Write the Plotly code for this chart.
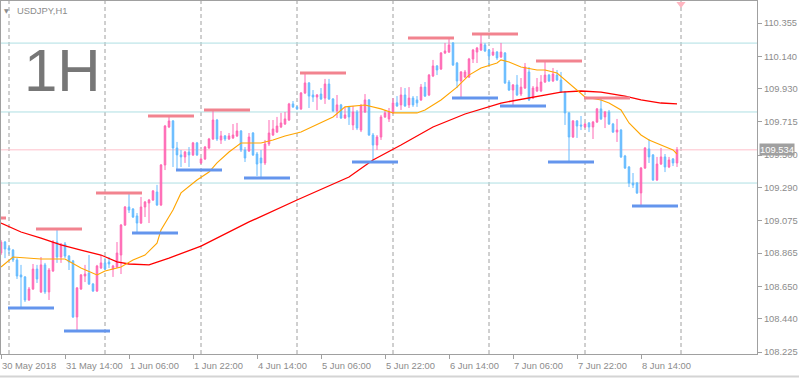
import plotly.graph_objects as go

# ---------------- data ----------------
bar_index = list(range(170))
open_ = [108.866,108.937,108.898,108.885,108.821,108.724,108.711,108.562,108.633,108.762,
108.614,108.789,108.614,108.750,108.937,108.840,108.924,108.846,108.815,108.452,
108.633,108.717,108.737,108.665,108.620,108.769,108.802,108.808,108.762,108.775,
108.853,109.047,109.164,109.151,109.106,109.060,109.164,109.190,109.209,109.261,
109.177,109.436,109.682,109.721,109.546,109.501,109.488,109.520,109.501,109.579,
109.449,109.475,109.546,109.604,109.727,109.598,109.624,109.604,109.611,109.624,
109.656,109.533,109.527,109.643,109.507,109.481,109.449,109.572,109.630,109.649,
109.682,109.701,109.727,109.831,109.812,109.799,109.902,109.967,109.889,109.876,
109.895,109.869,109.960,109.863,109.786,109.825,109.740,109.812,109.695,109.779,
109.662,109.779,109.857,109.630,109.565,109.617,109.747,109.734,109.773,109.838,
109.825,109.889,109.825,109.869,109.857,109.857,109.940,109.889,110.012,110.077,
110.057,110.161,110.167,110.226,110.096,109.980,110.005,110.005,110.122,110.167,
110.180,110.213,110.180,110.148,110.167,110.135,110.161,109.973,109.921,109.954,
109.895,109.934,110.038,109.869,109.915,109.915,109.973,110.018,109.980,110.018,
109.986,109.908,109.773,109.617,109.721,109.695,109.682,109.708,109.682,109.714,
109.799,109.747,109.779,109.701,109.649,109.662,109.494,109.423,109.319,109.319,
109.255,109.416,109.540,109.501,109.339,109.442,109.488,109.423,109.475,109.449]
high = [108.950,108.944,108.911,108.892,108.833,108.789,108.717,108.646,108.795,108.789,
108.840,108.802,108.769,108.950,109.021,108.930,108.937,108.853,108.821,108.646,
108.730,108.789,108.853,108.672,108.789,108.853,108.833,108.840,108.789,108.937,
109.054,109.170,109.255,109.157,109.125,109.229,109.203,109.216,109.274,109.307,
109.442,109.695,109.753,109.727,109.585,109.533,109.527,109.552,109.585,109.585,
109.481,109.559,109.611,109.792,109.734,109.656,109.630,109.643,109.701,109.708,
109.662,109.552,109.643,109.649,109.520,109.533,109.598,109.727,109.727,109.747,
109.773,109.779,109.838,109.850,109.818,109.908,110.032,109.973,109.921,109.895,
109.934,109.993,109.993,109.869,109.889,109.831,109.812,109.818,109.818,109.792,
109.831,109.895,109.863,109.643,109.630,109.760,109.792,109.805,109.869,109.882,
109.940,109.934,109.940,109.882,109.882,109.960,109.973,110.025,110.116,110.083,
110.167,110.226,110.258,110.232,110.103,110.044,110.051,110.129,110.187,110.200,
110.284,110.226,110.187,110.193,110.174,110.226,110.167,109.986,109.960,110.018,
109.999,110.096,110.070,109.947,109.999,110.018,110.109,110.025,110.064,110.051,
110.038,109.915,109.779,109.727,109.727,109.753,109.708,109.714,109.721,109.805,
109.869,109.786,109.792,109.708,109.734,109.669,109.501,109.429,109.384,109.326,
109.423,109.552,109.604,109.507,109.488,109.546,109.507,109.488,109.481,109.552]
low = [108.853,108.833,108.859,108.808,108.698,108.510,108.549,108.556,108.627,108.672,
108.607,108.601,108.562,108.743,108.802,108.802,108.833,108.756,108.445,108.361,
108.627,108.678,108.659,108.614,108.614,108.762,108.756,108.769,108.711,108.769,
108.730,109.041,109.125,109.093,108.996,109.054,109.099,109.060,109.203,109.170,
109.170,109.403,109.675,109.423,109.403,109.423,109.449,109.423,109.494,109.494,
109.442,109.468,109.540,109.598,109.591,109.572,109.591,109.598,109.604,109.617,
109.520,109.455,109.520,109.494,109.365,109.352,109.436,109.559,109.624,109.643,
109.675,109.695,109.721,109.805,109.792,109.792,109.895,109.805,109.844,109.792,
109.857,109.831,109.857,109.779,109.740,109.734,109.734,109.695,109.662,109.662,
109.649,109.773,109.624,109.455,109.533,109.598,109.740,109.714,109.766,109.812,
109.792,109.812,109.805,109.812,109.812,109.850,109.876,109.882,110.005,110.018,
110.051,110.154,110.161,110.077,109.934,109.869,109.999,109.999,110.096,110.096,
110.174,110.167,110.083,110.141,110.116,110.129,109.960,109.915,109.818,109.882,
109.882,109.928,109.850,109.863,109.908,109.908,109.967,109.973,109.973,109.980,
109.902,109.695,109.455,109.611,109.611,109.662,109.675,109.649,109.604,109.708,
109.727,109.675,109.695,109.643,109.585,109.481,109.410,109.293,109.287,109.248,
109.170,109.410,109.449,109.332,109.332,109.436,109.390,109.416,109.429,109.423]
close = [108.937,108.892,108.885,108.821,108.717,108.711,108.562,108.633,108.762,108.698,
108.789,108.614,108.756,108.937,108.840,108.924,108.846,108.808,108.452,108.640,
108.724,108.730,108.665,108.620,108.782,108.802,108.762,108.795,108.782,108.866,
109.047,109.164,109.144,109.099,109.060,109.164,109.196,109.209,109.268,109.177,
109.436,109.688,109.721,109.546,109.501,109.488,109.520,109.501,109.579,109.501,
109.475,109.552,109.604,109.727,109.604,109.624,109.604,109.624,109.630,109.656,
109.533,109.481,109.617,109.501,109.442,109.449,109.572,109.643,109.669,109.688,
109.708,109.734,109.831,109.812,109.799,109.902,109.967,109.882,109.876,109.889,
109.863,109.960,109.863,109.786,109.825,109.740,109.760,109.747,109.779,109.675,
109.818,109.857,109.630,109.565,109.617,109.747,109.773,109.779,109.838,109.818,
109.889,109.818,109.869,109.825,109.838,109.940,109.882,110.018,110.077,110.051,
110.161,110.174,110.213,110.083,109.980,110.038,110.038,110.122,110.180,110.193,
110.219,110.174,110.141,110.167,110.129,110.167,109.967,109.921,109.954,109.889,
109.940,110.070,109.857,109.934,109.940,109.973,110.018,109.980,110.025,109.986,
109.908,109.773,109.617,109.721,109.688,109.688,109.701,109.682,109.714,109.799,
109.734,109.779,109.701,109.649,109.662,109.488,109.416,109.319,109.306,109.255,
109.416,109.546,109.488,109.339,109.442,109.488,109.423,109.468,109.449,109.534]

# moving averages (bar index, price)
ma_slow_bar = [0,5,10,15,20,25,29,32,37,42,50,62,74,87,93,100,108,116,125,133,140,145,150,156,160,165,169]
ma_slow_val = [109.060,109.002,108.963,108.918,108.885,108.853,108.808,108.795,108.789,108.833,108.911,
               109.067,109.209,109.358,109.468,109.565,109.682,109.766,109.837,109.876,109.908,109.915,
               109.908,109.882,109.857,109.837,109.831]
ma_fast_bar = [0,3,10,16,20,24,26,30,33,36,39,40,43,45,49,52,54,57,60,65,68,71,75,80,83,86,91,95,98,
               104,106,110,114,117,120,124,125,127,130,134,136,139,141,144,146,150,152,155,157,160,162,165,168,169]
ma_fast_val = [108.775,108.840,108.827,108.827,108.769,108.724,108.750,108.775,108.821,108.853,108.930,
               109.015,109.144,109.255,109.339,109.390,109.449,109.520,109.578,109.578,109.598,109.624,
               109.649,109.708,109.747,109.812,109.824,109.799,109.773,109.773,109.792,109.857,109.940,
               110.018,110.064,110.096,110.116,110.103,110.070,110.051,110.051,110.031,109.986,109.921,
               109.876,109.857,109.837,109.792,109.708,109.630,109.598,109.565,109.533,109.507]

# swing high / low levels: (first bar, last bar, price)
swing_high = [(-10, 1, 109.092), (9, 20, 109.021), (24, 35, 109.255), (37, 48, 109.753), (51, 62, 109.792),
              (75, 86, 110.032), (102, 113, 110.258), (118, 129, 110.284), (134, 145, 110.109), (146, 157, 109.869)]
swing_low = [(2, 13, 108.510), (16, 27, 108.361), (33, 44, 108.996), (44, 55, 109.403), (61, 72, 109.352),
             (88, 99, 109.455), (113, 124, 109.869), (125, 136, 109.818), (137, 148, 109.455), (158, 169, 109.170)]

level_lines = [110.225, 109.779, 109.319]
last_price = 109.534
day_separator_bars = [2, 26, 50, 74, 98, 122, 146, 170]

x_tick_bars = [0, 16, 32, 48, 64, 80, 96, 112, 128, 144, 160]
x_tick_labels = ["30 May 2018", "31 May 14:00", "1 Jun 06:00", "1 Jun 22:00", "4 Jun 14:00",
                 "5 Jun 06:00", "5 Jun 22:00", "6 Jun 14:00", "7 Jun 06:00", "7 Jun 22:00", "8 Jun 14:00"]
y_tick_vals = [108.225, 108.440, 108.650, 108.865, 109.075, 109.290, 109.500, 109.715, 109.930, 110.140, 110.355]
y_tick_text = ["108.225", "108.440", "108.650", "108.865", "109.075", "109.290", "109.500",
               "109.715", "109.930", "110.140", "110.355"]

# ---------------- style ----------------
PINK = "#FF69B4"
BLUE = "#66BBFF"
GRAY = "#8C8C8C"
FRAME = "#A0A0A0"
FONT = "Liberation Sans, Arial, sans-serif"

W, H = 799, 379
ML, MR, MT, MB = 1, 42, 1, 25
plot_w = W - ML - MR
plot_h = H - MT - MB


def px_x(px):
    return (px - ML) / plot_w


def px_y(py):
    return (H - MB - py) / plot_h


fig = go.Figure()

fig.add_trace(go.Candlestick(
    x=bar_index, open=open_, high=high, low=low, close=close,
    increasing=dict(line=dict(color=PINK, width=1), fillcolor=PINK),
    decreasing=dict(line=dict(color=BLUE, width=1), fillcolor=BLUE),
    whiskerwidth=0, hoverinfo="skip", showlegend=False,
))
fig.add_trace(go.Scatter(x=ma_slow_bar, y=ma_slow_val, mode="lines",
                         line=dict(color="#FF0000", width=1.3), hoverinfo="skip", showlegend=False))
fig.add_trace(go.Scatter(x=ma_fast_bar, y=ma_fast_val, mode="lines",
                         line=dict(color="#FFA500", width=1.1), hoverinfo="skip", showlegend=False))
# chart-shift marker
fig.add_trace(go.Scatter(x=[day_separator_bars[-1]], y=[110.478], mode="markers",
                         marker=dict(symbol="triangle-down", size=8, color="#FFB6C1"),
                         cliponaxis=False, hoverinfo="skip", showlegend=False))

shapes = []
for b in day_separator_bars:
    shapes.append(dict(type="line", xref="x", yref="paper", x0=b, x1=b, y0=0, y1=1, layer="below",
                       line=dict(color=FRAME, width=1, dash="4px,3px")))
for lv in level_lines:
    shapes.append(dict(type="line", xref="paper", yref="y", x0=0, x1=1, y0=lv, y1=lv, layer="below",
                       line=dict(color="#AEDFE3", width=1)))
shapes.append(dict(type="line", xref="paper", yref="y", x0=0, x1=1, y0=last_price, y1=last_price,
                   layer="below", line=dict(color="#FFC0CB", width=1)))
for s, e, v in swing_high:
    shapes.append(dict(type="line", xref="x", yref="y", x0=s - 0.25, x1=e + 0.25, y0=v, y1=v,
                       line=dict(color="#F2838F", width=3)))
for s, e, v in swing_low:
    shapes.append(dict(type="line", xref="x", yref="y", x0=s - 0.25, x1=e + 0.25, y0=v, y1=v,
                       line=dict(color="#6495ED", width=3)))
# window bottom edge
shapes.append(dict(type="line", xref="paper", yref="paper", x0=-0.01, x1=1.06,
                   y0=px_y(376.5), y1=px_y(376.5), line=dict(color="#D4D4D4", width=2)))

annotations = []
for b, t in zip(x_tick_bars, x_tick_labels):
    annotations.append(dict(x=b, y=px_y(365), xref="x", yref="paper", text=t, showarrow=False,
                            xanchor="left", yanchor="middle", xshift=-1,
                            font=dict(family=FONT, size=9.4, color=GRAY)))
annotations.append(dict(x=1, y=last_price, xref="paper", yref="y", text=f"{last_price:.3f}",
                        showarrow=False, xanchor="left", yanchor="middle", xshift=2,
                        bgcolor="#A0A0A0", borderpad=0,
                        font=dict(family=FONT, size=9.4, color="white")))
annotations.append(dict(x=px_x(15), y=px_y(10), xref="paper", yref="paper", text="USDJPY,H1",
                        showarrow=False, xanchor="left", yanchor="middle",
                        font=dict(family=FONT, size=9.4, color=GRAY)))
annotations.append(dict(x=px_x(6), y=px_y(10), xref="paper", yref="paper", text="▼",
                        showarrow=False, xanchor="center", yanchor="middle",
                        font=dict(family="DejaVu Sans", size=6, color=GRAY)))
annotations.append(dict(x=px_x(22), y=px_y(70), xref="paper", yref="paper", text="1H",
                        showarrow=False, xanchor="left", yanchor="middle",
                        font=dict(family=FONT, size=60, color="#777777")))

fig.update_layout(
    width=W, height=H,
    margin=dict(l=ML, r=MR, t=MT, b=MB, pad=0),
    paper_bgcolor="white", plot_bgcolor="white",
    showlegend=False, hovermode=False,
    boxgap=0.45,
    shapes=shapes, annotations=annotations,
    xaxis=dict(range=[0, 189], showgrid=False, zeroline=False, showline=True, mirror=True,
               linecolor=FRAME, linewidth=1, ticks="outside", ticklen=4, tickcolor=FRAME,
               tickvals=x_tick_bars, showticklabels=False, rangeslider=dict(visible=False),
               fixedrange=True),
    yaxis=dict(range=[108.2122, 110.4975], side="right", showgrid=False, zeroline=False,
               showline=True, mirror=True, linecolor=FRAME, linewidth=1,
               ticks="outside", ticklen=4, tickcolor=FRAME,
               tickvals=y_tick_vals, ticktext=y_tick_text,
               tickfont=dict(family=FONT, size=9.4, color=GRAY), fixedrange=True),
)

fig.write_html("out.html", config={"displayModeBar": False},
               post_script="document.body.style.margin='0';document.body.style.overflow='hidden';")
